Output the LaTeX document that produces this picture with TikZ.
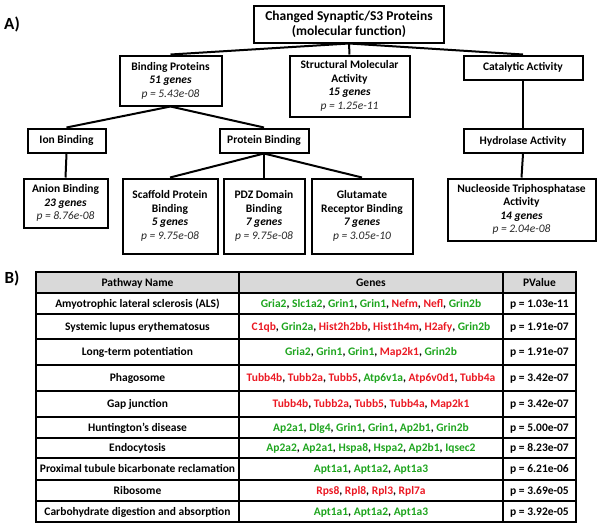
\documentclass[tikz,border=0pt]{standalone}
\usepackage{fontspec}
\setmainfont{Carlito}
\definecolor{gg}{RGB}{30,165,30}
\definecolor{rr}{RGB}{235,25,35}
\definecolor{hdr}{RGB}{217,217,217}
\newcommand{\Gn}[1]{\textcolor{gg}{#1}}
\newcommand{\Rd}[1]{\textcolor{rr}{#1}}
\newcommand{\Gs}[1]{\textbf{\textit{#1}}}
\newcommand{\Pv}[1]{\textcolor{black!85}{\textit{#1}}}
\begin{document}
\begin{tikzpicture}[x=1pt,y=-1pt,
  tbox/.style={draw, line width=2pt, inner sep=0pt, align=center,
    font=\fontsize{11.5}{13.5}\selectfont},
  conn/.style={line width=2pt},
  cell/.style={inner sep=0pt, text height=7.4pt, text depth=0pt,
    font=\fontsize{11.5}{13.5}\selectfont\bfseries},
  tline/.style={line width=2pt},
  lbl/.style={inner sep=0pt, font=\fontsize{17}{19}\selectfont\bfseries}
]
\useasboundingbox (0,0) rectangle (602,528);

% ---------- Part A ----------
\node[lbl] (la) at (12,24) {A)};

\node[tbox, minimum width=190pt, minimum height=37pt,
  font=\fontsize{13.5}{15}\selectfont\bfseries] (top) at (349,24)
  {Changed Synaptic/S3 Proteins\\(molecular function)};

\node[tbox, minimum width=102pt, minimum height=50pt] (bind) at (170.5,80.5)
  {\textbf{Binding Proteins}\\\Gs{51 genes}\\\Pv{p = 5.43e-08}};
\node[tbox, minimum width=120pt, minimum height=61pt] (struct) at (349.5,86)
  {\textbf{Structural Molecular}\\\textbf{Activity}\\\Gs{15 genes}\\\Pv{p = 1.25e-11}};
\node[tbox, minimum width=119pt, minimum height=24pt] (cat) at (523,67.5)
  {\textbf{Catalytic Activity}};

\node[tbox, minimum width=78pt, minimum height=24pt] (ion) at (66.5,140.5)
  {\textbf{Ion Binding}};
\node[tbox, minimum width=89pt, minimum height=24pt] (prot) at (264,140.5)
  {\textbf{Protein Binding}};
\node[tbox, minimum width=119pt, minimum height=24pt] (hydro) at (523,141)
  {\textbf{Hydrolase Activity}};

\node[tbox, minimum width=84pt, minimum height=49pt] (anion) at (65.5,203)
  {\textbf{Anion Binding}\\\Gs{23 genes}\\\Pv{p = 8.76e-08}};
\node[tbox, minimum width=95pt, minimum height=75pt] (scaf) at (170,216)
  {\textbf{Scaffold Protein}\\\textbf{Binding}\\\Gs{5 genes}\\\Pv{p = 9.75e-08}};
\node[tbox, minimum width=81pt, minimum height=75pt] (pdz) at (264,216)
  {\textbf{PDZ Domain}\\\textbf{Binding}\\\Gs{7 genes}\\\Pv{p = 9.75e-08}};
\node[tbox, minimum width=101pt, minimum height=75pt] (glut) at (362,216)
  {\textbf{Glutamate}\\\textbf{Receptor Binding}\\\Gs{7 genes}\\\Pv{p = 3.05e-10}};
\node[tbox, minimum width=148pt, minimum height=62pt] (nuc) at (521.5,209.5)
  {\textbf{Nucleoside Triphosphatase}\\\textbf{Activity}\\\Gs{14 genes}\\\Pv{p = 2.04e-08}};

\draw[conn] (top.south) -- (bind.north);
\draw[conn] (top.south) -- (struct.north);
\draw[conn] (top.south) -- (cat.north);
\draw[conn] (bind.south) -- (ion.north);
\draw[conn] (bind.south) -- (prot.north);
\draw[conn] (cat.south) -- (hydro.north);
\draw[conn] (ion.south) -- (anion.north);
\draw[conn] (prot.south) -- (scaf.north);
\draw[conn] (prot.south) -- (pdz.north);
\draw[conn] (prot.south) -- (glut.north);
\draw[conn] (hydro.south) -- (nuc.north);

% ---------- Part B ----------
\node[lbl] (lb) at (12,278) {B)};

\fill[hdr] (36,272) rectangle (576,293);
\draw[tline] (36,293) -- (576,293);
\foreach \yy in {314,339,365,391,417,438,458,480,501}
  \draw[tline] (36,\yy) -- (576,\yy);
\draw[tline] (239,272) -- (239,522);
\draw[tline] (503,272) -- (503,522);
\draw[tline] (36,272) rectangle (576,522);

% header
\node[cell] (h1) at (137.5,282.5) {Pathway Name};
\node[cell] (h2) at (371,282.5) {Genes};
\node[cell] (h3) at (539.5,282.5) {PValue};

% pathway names
\node[cell] (n1) at (137.5,303.5) {Amyotrophic lateral sclerosis (ALS)};
\node[cell] (n2) at (137.5,326.5) {Systemic lupus erythematosus};
\node[cell] (n3) at (137.5,352) {Long-term potentiation};
\node[cell] (n4) at (137.5,378) {Phagosome};
\node[cell] (n5) at (137.5,404) {Gap junction};
\node[cell] (n6) at (137.5,427.5) {Huntington's disease};
\node[cell] (n7) at (137.5,448) {Endocytosis};
\node[cell] (n8) at (137.5,469) {Proximal tubule bicarbonate reclamation};
\node[cell] (n9) at (137.5,490.5) {Ribosome};
\node[cell] (n10) at (137.5,511.5) {Carbohydrate digestion and absorption};

% genes
\node[cell] (g1) at (371,303.5) {\Gn{Gria2}, \Gn{Slc1a2}, \Gn{Grin1}, \Gn{Grin1}, \Rd{Nefm}, \Rd{Nefl}, \Gn{Grin2b}};
\node[cell] (g2) at (371,326.5) {\Rd{C1qb}, \Gn{Grin2a}, \Rd{Hist2h2bb}, \Rd{Hist1h4m}, \Rd{H2afy}, \Gn{Grin2b}};
\node[cell] (g3) at (371,352) {\Gn{Gria2}, \Gn{Grin1}, \Gn{Grin1}, \Rd{Map2k1}, \Gn{Grin2b}};
\node[cell] (g4) at (371,378) {\Rd{Tubb4b}, \Rd{Tubb2a}, \Rd{Tubb5}, \Gn{Atp6v1a}, \Rd{Atp6v0d1}, \Rd{Tubb4a}};
\node[cell] (g5) at (371,404) {\Rd{Tubb4b}, \Rd{Tubb2a}, \Rd{Tubb5}, \Rd{Tubb4a}, \Rd{Map2k1}};
\node[cell] (g6) at (371,427.5) {\Gn{Ap2a1}, \Gn{Dlg4}, \Gn{Grin1}, \Gn{Grin1}, \Gn{Ap2b1}, \Gn{Grin2b}};
\node[cell] (g7) at (371,448) {\Gn{Ap2a2}, \Gn{Ap2a1}, \Gn{Hspa8}, \Gn{Hspa2}, \Gn{Ap2b1}, \Gn{Iqsec2}};
\node[cell] (g8) at (371,469) {\Gn{Apt1a1}, \Gn{Apt1a2}, \Gn{Apt1a3}};
\node[cell] (g9) at (371,490.5) {\Rd{Rps8}, \Rd{Rpl8}, \Rd{Rpl3}, \Rd{Rpl7a}};
\node[cell] (g10) at (371,511.5) {\Gn{Apt1a1}, \Gn{Apt1a2}, \Gn{Apt1a3}};

% p values
\node[cell] (v1) at (539.5,303.5) {p = 1.03e-11};
\node[cell] (v2) at (539.5,326.5) {p = 1.91e-07};
\node[cell] (v3) at (539.5,352) {p = 1.91e-07};
\node[cell] (v4) at (539.5,378) {p = 3.42e-07};
\node[cell] (v5) at (539.5,404) {p = 3.42e-07};
\node[cell] (v6) at (539.5,427.5) {p = 5.00e-07};
\node[cell] (v7) at (539.5,448) {p = 8.23e-07};
\node[cell] (v8) at (539.5,469) {p = 6.21e-06};
\node[cell] (v9) at (539.5,490.5) {p = 3.69e-05};
\node[cell] (v10) at (539.5,511.5) {p = 3.92e-05};
\end{tikzpicture}
\end{document}
